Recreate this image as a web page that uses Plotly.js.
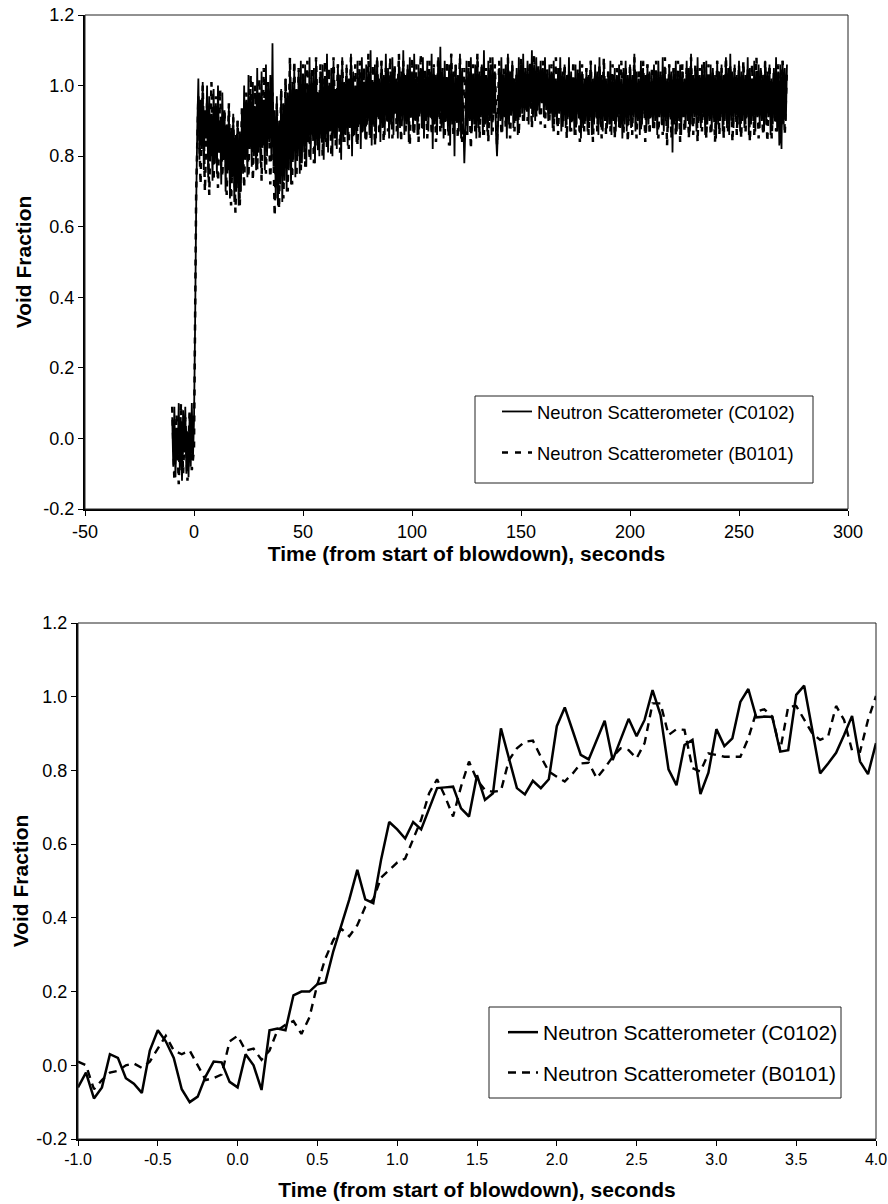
<!DOCTYPE html>
<html><head><meta charset="utf-8">
<script src="https://cdn.plot.ly/plotly-3.0.1.min.js"></script>
<style>html,body{margin:0;padding:0;background:#fff}#chart{width:888px;height:1204px}</style>
</head><body><div id="chart"></div>
<script>
// ---------- Top chart: full transient (seconds), C0102 read every 0.5 s ----------
const topStartC = -10, topStepC = 0.5;
const topC0102 = [
 0.06,-0.08,0.09,-0.11,0.03,-0.06,0.10,-0.09,0.05,-0.12,0.08,-0.04,0.09,-0.10,0.02,-0.11,0.07,-0.08,0.10,-0.06,
 0.05,0.32,0.66,0.88,1.02,0.79,0.96,0.82,1.01,0.76,0.93,0.85,1.00,0.74,0.97,0.80,0.92,0.73,0.99,0.78,
 0.95,0.75,1.00,0.81,0.90,0.72,0.98,0.79,0.93,0.70,0.89,0.76,0.94,0.68,0.88,0.74,0.92,0.67,0.86,0.71,
 0.90,0.66,0.87,0.70,0.93,0.75,1.00,0.79,0.96,0.74,1.03,0.82,0.97,0.77,1.01,0.80,0.94,0.76,1.05,0.81,
 0.98,0.78,1.04,0.83,0.96,0.76,1.06,0.80,1.00,0.84,1.03,0.79,1.12,0.77,0.93,0.68,0.97,0.66,0.90,0.72,
 0.99,0.67,0.95,0.73,1.02,0.70,0.98,0.76,1.05,0.72,1.01,0.79,1.06,0.74,0.99,0.80,1.04,0.75,1.07,0.78,
 1.03,0.81,1.06,0.77,0.99,0.84,1.08,0.79,1.02,0.86,1.05,0.78,1.07,0.83,0.98,0.80,1.04,0.85,1.06,0.79,
 1.02,0.84,1.09,0.81,1.00,0.87,1.05,0.80,1.07,0.85,0.99,0.82,1.06,0.88,1.03,0.79,1.08,0.84,1.01,0.86,
 1.06,0.83,1.02,0.88,1.09,0.80,1.04,0.86,1.00,0.84,1.07,0.89,1.03,0.82,1.08,0.87,1.01,0.85,1.06,0.90,
 1.04,0.86,1.10,0.83,1.01,0.89,1.06,0.85,1.08,0.91,1.02,0.84,1.07,0.88,1.03,0.86,1.09,0.90,1.05,0.85,
 1.03,0.89,1.08,0.86,1.05,0.92,1.02,0.85,1.07,0.88,1.04,0.90,1.10,0.86,1.03,0.89,1.06,0.84,1.08,0.91,
 1.04,0.87,1.09,0.90,1.02,0.86,1.06,0.92,1.05,0.88,1.08,0.85,1.03,0.90,1.07,0.87,1.04,0.91,1.09,0.82,
 1.05,0.89,1.03,0.86,1.08,0.91,1.11,0.88,1.04,0.85,1.07,0.90,1.02,0.87,1.06,0.83,1.09,0.89,1.04,0.80,
 1.06,0.90,1.03,0.87,1.09,0.85,1.05,0.91,0.78,0.88,1.07,0.86,1.04,0.90,1.08,0.87,1.03,0.89,1.06,0.85,
 1.08,0.88,1.04,0.91,1.06,0.86,1.10,0.89,1.03,0.87,1.07,0.90,1.05,0.86,1.08,0.92,1.04,0.87,0.80,0.89,
 1.05,0.90,1.08,0.87,1.03,0.91,1.06,0.85,1.09,0.89,1.04,0.92,1.07,0.88,1.02,0.90,1.05,0.86,1.08,0.91,
 1.06,0.92,1.09,0.90,1.04,0.93,1.07,0.89,1.05,0.94,1.10,0.91,1.06,0.90,1.08,0.93,1.04,0.92,1.07,0.95,
 1.05,0.91,1.08,0.93,1.03,0.90,1.06,0.92,1.04,0.88,1.07,0.91,1.02,0.89,1.05,0.92,1.08,0.87,1.04,0.90,
 1.06,0.88,1.03,0.91,1.08,0.87,1.04,0.90,1.02,0.86,1.06,0.89,1.03,0.92,1.07,0.85,1.04,0.88,1.02,0.90,
 1.05,0.87,1.03,0.90,1.07,0.86,1.02,0.89,1.06,0.91,1.04,0.86,1.08,0.89,1.03,0.87,1.06,0.90,1.02,0.88,
 1.04,0.89,1.07,0.86,1.02,0.90,1.05,0.87,1.03,0.91,1.06,0.88,1.02,0.85,1.05,0.89,1.07,0.87,1.03,0.90,
 1.06,0.88,1.03,0.91,1.09,0.87,1.04,0.90,1.02,0.86,1.07,0.89,1.05,0.92,1.03,0.87,1.06,0.89,1.04,0.91,
 1.02,0.88,1.06,0.90,1.04,0.86,1.07,0.91,1.03,0.89,1.08,0.87,1.05,0.90,1.02,0.88,1.06,0.91,1.04,0.81,
 1.05,0.89,1.07,0.87,1.03,0.90,1.06,0.86,1.04,0.91,1.02,0.88,1.07,0.90,1.05,0.87,1.09,0.89,1.03,0.91,
 1.05,0.87,1.08,0.90,1.03,0.88,1.06,0.91,1.04,0.86,1.07,0.89,1.02,0.90,1.06,0.87,1.05,0.91,1.03,0.85,
 1.07,0.89,1.04,0.91,1.06,0.87,1.03,0.90,1.08,0.88,1.05,0.86,1.09,0.90,1.04,0.88,1.06,0.91,1.03,0.89,
 1.07,0.87,1.04,0.90,1.06,0.88,1.03,0.91,1.08,0.86,1.05,0.89,1.02,0.90,1.07,0.87,1.04,0.91,1.06,0.88,
 1.05,0.90,1.03,0.87,1.07,0.89,1.04,0.91,1.06,0.86,1.02,0.89,1.05,0.90,1.08,0.87,1.04,0.83,1.06,0.82,
 1.07,0.89,1.05,0.90,1.06
];
// B0101 read every 1 s
const topStartB = -10, topStepB = 1;
const topB0101 = [
 0.09,-0.12,0.07,-0.13,0.10,-0.10,0.06,-0.12,0.08,-0.09,
 -0.03,0.70,0.97,0.72,1.00,0.70,0.95,0.69,1.01,0.73,
 0.97,0.71,0.99,0.74,0.93,0.69,0.95,0.66,0.91,0.64,
 0.90,0.66,0.94,0.71,0.98,0.74,1.03,0.73,1.00,0.76,
 1.02,0.73,1.05,0.75,1.01,0.72,0.98,0.63,0.95,0.65,
 0.99,0.68,1.02,0.70,1.08,0.72,1.07,0.74,1.05,0.76,
 1.06,0.77,1.07,0.79,1.05,0.78,1.08,0.81,1.06,0.80,
 1.07,0.82,1.05,0.80,1.08,0.83,1.06,0.81,1.07,0.84,
 1.05,0.82,1.08,0.85,1.06,0.83,1.07,0.86,1.05,0.84,
 1.09,0.85,1.06,0.83,1.08,0.86,1.07,0.84,1.05,0.87,
 1.08,0.85,1.06,0.87,1.09,0.84,1.07,0.86,1.05,0.83,
 1.08,0.86,1.06,0.84,1.09,0.87,1.05,0.85,1.07,0.86,
 1.06,0.84,1.08,0.87,1.05,0.85,1.07,0.83,1.09,0.86,
 1.06,0.85,1.08,0.84,1.05,0.86,1.07,0.82,1.06,0.87,
 1.09,0.85,1.06,0.86,1.05,0.84,1.08,0.87,1.06,0.83,
 1.07,0.86,1.05,0.88,1.08,0.85,1.06,0.87,1.04,0.86,
 1.08,0.89,1.05,0.90,1.07,0.88,1.09,0.91,1.06,0.89,
 1.07,0.88,1.05,0.90,1.06,0.87,1.08,0.86,1.05,0.88,
 1.06,0.85,1.04,0.87,1.07,0.86,1.05,0.84,1.06,0.87,
 1.05,0.86,1.07,0.84,1.04,0.87,1.06,0.85,1.08,0.86,
 1.04,0.87,1.06,0.85,1.05,0.88,1.07,0.86,1.05,0.84,
 1.06,0.86,1.08,0.85,1.05,0.87,1.07,0.84,1.06,0.86,
 1.05,0.87,1.07,0.85,1.04,0.86,1.08,0.83,1.06,0.85,
 1.05,0.86,1.07,0.84,1.06,0.87,1.05,0.85,1.08,0.86,
 1.06,0.84,1.05,0.87,1.07,0.85,1.06,0.86,1.04,0.84,
 1.07,0.86,1.05,0.85,1.08,0.87,1.06,0.84,1.05,0.86,
 1.06,0.85,1.07,0.87,1.05,0.84,1.06,0.86,1.08,0.85,
 1.05,0.86,1.07,0.84,1.06,0.85,1.04,0.87,1.06,0.83,
 1.07,0.86,1.05
];
const topXTicks = [-50,0,50,100,150,200,250,300];
const topXTickText = ['-50','0','50','100','150','200','250','300'];

// ---------- Bottom chart: first seconds (20 Hz) ----------
const botStart = -1.0, botStep = 0.05;
const botC0102 = [
 -0.06,-0.02,-0.09,-0.06,0.03,0.02,-0.035,-0.05,-0.075,0.04,
 0.095,0.065,0.02,-0.065,-0.10,-0.085,-0.03,0.01,0.008,-0.045,
 -0.06,0.03,0.0,-0.067,0.095,0.10,0.095,0.19,0.20,0.20,
 0.22,0.225,0.31,0.38,0.45,0.53,0.45,0.44,0.56,0.66,
 0.64,0.615,0.66,0.64,0.695,0.752,0.754,0.756,0.697,0.675,
 0.787,0.72,0.738,0.914,0.833,0.752,0.735,0.772,0.752,0.776,
 0.92,0.971,0.907,0.842,0.83,0.883,0.935,0.828,0.885,0.94,
 0.893,0.937,1.018,0.95,0.803,0.76,0.869,0.883,0.736,0.794,
 0.912,0.866,0.887,0.986,1.021,0.944,0.946,0.945,0.851,0.855,
 1.005,1.03,0.912,0.792,0.819,0.848,0.896,0.948,0.824,0.79,
 0.874
];
const botB0101 = [
 0.01,0.0,-0.065,-0.04,-0.02,-0.015,0.0,0.005,-0.007,0.01,
 0.045,0.08,0.04,0.03,0.04,0.0,-0.04,-0.035,-0.025,0.065,
 0.08,0.04,0.045,0.015,0.04,0.095,0.11,0.12,0.085,0.13,
 0.22,0.29,0.34,0.37,0.35,0.38,0.43,0.45,0.51,0.53,
 0.55,0.561,0.611,0.666,0.738,0.776,0.729,0.675,0.756,0.824,
 0.774,0.747,0.742,0.745,0.828,0.86,0.878,0.881,0.837,0.797,
 0.783,0.77,0.792,0.819,0.821,0.779,0.806,0.837,0.86,0.855,
 0.833,0.874,0.982,0.982,0.896,0.912,0.91,0.806,0.797,0.846,
 0.842,0.837,0.837,0.837,0.887,0.959,0.966,0.946,0.855,0.973,
 0.975,0.937,0.901,0.883,0.892,0.975,0.937,0.854,0.851,0.937,
 1.002
];
const botXTicks = [-1,-0.5,0,0.5,1,1.5,2,2.5,3,3.5,4];
const botXTickText = ['-1.0','-0.5','0.0','0.5','1.0','1.5','2.0','2.5','3.0','3.5','4.0'];

const yTicks = [-0.2,0,0.2,0.4,0.6,0.8,1.0,1.2];
const yTickText = ['-0.2','0.0','0.2','0.4','0.6','0.8','1.0','1.2'];

const nameC = 'Neutron Scatterometer (C0102)';
const nameB = 'Neutron Scatterometer (B0101)';

function times(start, step, n){
  const t = [];
  for (let i = 0; i < n; i++) t.push(Math.round((start + i*step)*1000)/1000);
  return t;
}

const FONT = 'Liberation Sans, Arial, Helvetica, sans-serif';
const W = 888, H = 1204;
const px = v => v / W;
const py = v => 1 - v / H;

const traces = [
  {x: times(topStartC, topStepC, topC0102.length), y: topC0102, type: 'scatter', mode: 'lines',
   name: nameC, xaxis: 'x', yaxis: 'y', legend: 'legend', legendgroup: 'c',
   line: {color: '#000', width: 1.8, simplify: false}},
  {x: times(topStartB, topStepB, topB0101.length), y: topB0101, type: 'scatter', mode: 'lines',
   name: nameB, xaxis: 'x', yaxis: 'y', legend: 'legend', legendgroup: 'b',
   line: {color: '#000', width: 2.5, dash: '6px,7px', simplify: false}},
  {x: times(botStart, botStep, botC0102.length), y: botC0102, type: 'scatter', mode: 'lines',
   name: nameC, xaxis: 'x2', yaxis: 'y2', legend: 'legend2', legendgroup: 'c2',
   line: {color: '#000', width: 2.5}},
  {x: times(botStart, botStep, botB0101.length), y: botB0101, type: 'scatter', mode: 'lines',
   name: nameB, xaxis: 'x2', yaxis: 'y2', legend: 'legend2', legendgroup: 'b2',
   line: {color: '#000', width: 2.4, dash: '8px,6px'}}
];

function axisBase(extra){
  return Object.assign({
    showgrid: false, zeroline: false, showline: true, linecolor: '#000', linewidth: 2,
    ticks: 'outside', ticklen: 5, tickwidth: 1, tickcolor: '#000',
    tickmode: 'array', automargin: false, fixedrange: true
  }, extra);
}

const layout = {
  width: W, height: H,
  margin: {l: 0, r: 0, t: 0, b: 0},
  paper_bgcolor: '#fff', plot_bgcolor: '#fff',
  font: {family: FONT, color: '#000'},
  showlegend: true,
  xaxis: axisBase({domain: [px(85), px(848)], anchor: 'y', range: [-50, 300],
    tickvals: topXTicks, ticktext: topXTickText, tickfont: {size: 18, family: FONT},
    title: {text: '<b>Time (from start of blowdown), seconds</b>', font: {size: 21, family: FONT}, standoff: 0}}),
  yaxis: axisBase({domain: [py(509), py(15)], anchor: 'x', range: [-0.2, 1.2],
    tickvals: yTicks, ticktext: yTickText, tickfont: {size: 18, family: FONT},
    title: {text: '<b>Void Fraction</b>', font: {size: 21, family: FONT}, standoff: 6}}),
  xaxis2: axisBase({domain: [px(78), px(876)], anchor: 'y2', range: [-1, 4],
    tickvals: botXTicks, ticktext: botXTickText, tickfont: {size: 16, family: FONT},
    title: {text: '<b>Time (from start of blowdown), seconds</b>', font: {size: 21, family: FONT}, standoff: 15}}),
  yaxis2: axisBase({domain: [py(1139), py(623)], anchor: 'x2', range: [-0.2, 1.2],
    tickvals: yTicks, ticktext: yTickText, tickfont: {size: 18, family: FONT},
    title: {text: '<b>Void Fraction</b>', font: {size: 21, family: FONT}, standoff: 2}}),
  legend: {x: px(497), y: py(393), xanchor: 'left', yanchor: 'top',
    bgcolor: 'rgba(0,0,0,0)', borderwidth: 0, traceorder: 'grouped', tracegroupgap: 14,
    font: {size: 18.4, family: FONT, color: '#000'}},
  legend2: {x: px(503), y: py(1012), xanchor: 'left', yanchor: 'top',
    bgcolor: 'rgba(0,0,0,0)', borderwidth: 0, traceorder: 'grouped', tracegroupgap: 10,
    font: {size: 21, family: FONT, color: '#000'}},
  shapes: [
    {type: 'rect', xref: 'x domain', yref: 'y domain', x0: 0, x1: 1, y0: 0, y1: 1,
     line: {color: '#222', width: 1}},
    {type: 'rect', xref: 'x2 domain', yref: 'y2 domain', x0: 0, x1: 1, y0: 0, y1: 1,
     line: {color: '#222', width: 1}},
    {type: 'rect', xref: 'paper', yref: 'paper', x0: px(475), x1: px(813), y0: py(483), y1: py(396),
     line: {color: '#222', width: 1}},
    {type: 'rect', xref: 'paper', yref: 'paper', x0: px(489), x1: px(841), y0: py(1098), y1: py(1007),
     line: {color: '#222', width: 1}}
  ]
};

Plotly.newPlot('chart', traces, layout, {displayModeBar: false, staticPlot: true});
</script>
</body></html>
